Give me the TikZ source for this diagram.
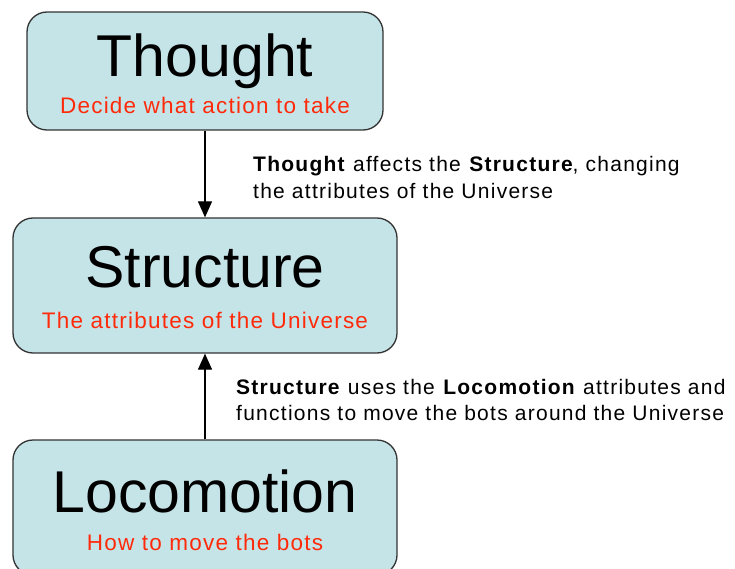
\documentclass[tikz,border=0pt]{standalone}
\usepackage{fontspec}
\setmainfont{Liberation Sans}
\newfontfamily\subfont[LetterSpace=5.5]{Liberation Sans}
\newfontfamily\notefont[LetterSpace=6]{Liberation Sans}
\usetikzlibrary{arrows.meta}
\definecolor{boxfill}{HTML}{C5E4E8}
\definecolor{subred}{HTML}{FF2A0A}
\definecolor{boxline}{HTML}{333333}

\begin{document}
\begin{tikzpicture}[x=1pt,y=-1pt,
  stage/.style={draw=boxline, line width=1.3pt, fill=boxfill, rounded corners=20pt, inner sep=0pt},
  title/.style={anchor=base, inner sep=0pt, font=\fontsize{59}{59}\selectfont},
  subtitle/.style={anchor=base, inner sep=0pt, text=subred, font=\subfont\fontsize{22.5}{22.5}\selectfont},
  note/.style={anchor=base west, inner sep=0pt, font=\notefont\fontsize{21}{27}\selectfont},
  flow/.style={-{Triangle[length=16pt,width=14pt]}, line width=1.2pt}
]
\useasboundingbox (0,0) rectangle (735,569);

% the three layers
\node[stage, minimum width=356pt, minimum height=118pt] (thought) at (205,71) {};
\node[stage, minimum width=384pt, minimum height=135pt] (structure) at (205,285.5) {};
\node[stage, minimum width=384pt, minimum height=135pt] (locomotion) at (205,507.5) {};

% layer names and descriptions
\node[title] (thoughtname) at (205,77) {Thought};
\node[subtitle] (thoughtdesc) at (205,114) {Decide what action to take};
\node[title] (structurename) at (205,287) {Structure};
\node[subtitle] (structuredesc) at (205,328) {The attributes of the Universe};
\node[title] (locomotionname) at (205,512) {Locomotion};
\node[subtitle] (locomotiondesc) at (205,550) {How to move the bots};

% connections between layers
\draw[flow] (thought.south) -- (structure.north);
\draw[flow] (locomotion.north) -- (structure.south);

% explanations beside the connections
\node[note] (notea1) at (253,172) {\textbf{Thought} affects the \textbf{Structure}, changing};
\node[note] (notea2) at (253,199) {the attributes of the Universe};
\node[note] (noteb1) at (236,394) {\textbf{Structure} uses the \textbf{Locomotion} attributes and};
\node[note] (noteb2) at (236,420) {functions to move the bots around the Universe};
\end{tikzpicture}
\end{document}
